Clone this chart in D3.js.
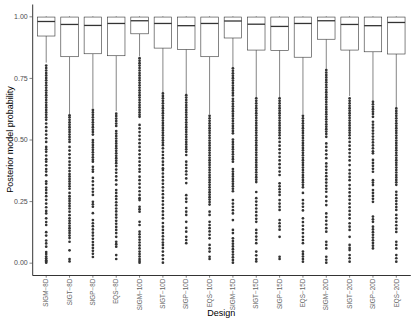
<!DOCTYPE html>
<html>
  <head>
    <script src="https://d3js.org/d3.v7.min.js"></script>
    <style>
      body { margin: 0; background: #fff; }
      text { font-family: "Liberation Sans", Arial, sans-serif; }
    </style>
  </head>
  <body>
    <div id="chart"></div>
  <script>
    var width = 415,
        height = 323;

    // designs on the x axis
    var designs = ["SIGM−8D", "SIGT−8D", "SIGP−8D", "EQS−8D",
                   "SIGM−10D", "SIGT−10D", "SIGP−10D", "EQS−10D",
                   "SIGM−15D", "SIGT−15D", "SIGP−15D", "EQS−15D",
                   "SIGM−20D", "SIGT−20D", "SIGP−20D", "EQS−20D"];

    // box summaries
    var q1s = [0.920, 0.836, 0.848, 0.840, 0.929, 0.871, 0.866, 0.836,
               0.912, 0.863, 0.862, 0.834, 0.907, 0.863, 0.856, 0.847];
    var medians = [0.979, 0.967, 0.963, 0.971, 0.982, 0.971, 0.962, 0.971,
                   0.981, 0.968, 0.959, 0.971, 0.982, 0.967, 0.962, 0.975];
    var q3s = [0.997, 0.997, 0.997, 0.997, 0.997, 0.997, 0.997, 0.997,
               0.997, 0.997, 0.997, 0.997, 0.997, 0.997, 0.997, 0.997];
    var lowerWhiskers = [0.812, 0.603, 0.628, 0.615, 0.838, 0.692, 0.682, 0.602,
                         0.792, 0.670, 0.670, 0.602, 0.785, 0.676, 0.656, 0.630];
    var upperWhiskers = [1, 1, 1, 1, 1, 1, 1, 1, 1, 1, 1, 1, 1, 1, 1, 1];

    var yTicks = [0, 0.25, 0.5, 0.75, 1];

    // outlying posterior probabilities, one list per design
    var outliers = [
      [0.80,0.79,0.78,0.77,0.76,0.75,0.74,0.73,0.72,0.71,0.70,0.69,0.68,0.67,0.66,0.65,0.64,0.63,0.62,0.61,
       0.60,0.59,0.58,0.565,0.55,0.535,0.52,0.505,0.49,0.47,0.46,0.45,0.435,0.42,0.41,0.395,0.38,0.37,0.355,
       0.33,0.32,0.305,0.295,0.283,0.27,0.255,0.24,0.225,0.21,0.20,0.18,0.165,0.153,0.124,0.11,0.09,0.078,0.065,
       0.043,0.035,0.025,0.018,0.01,0.005,0.0],
      [0.598,0.59,0.58,0.57,0.56,0.55,0.54,0.53,0.52,0.51,0.50,0.49,0.47,0.455,0.44,0.425,0.41,0.397,
       0.384,0.372,0.36,0.35,0.34,0.33,0.32,0.31,0.30,0.283,0.27,0.26,0.25,0.24,0.23,0.22,0.207,
       0.193,0.18,0.17,0.16,0.15,0.14,0.13,0.12,0.11,0.10,0.085,0.05,0.015,0.005],
      [0.62,0.61,0.60,0.59,0.58,0.57,0.56,0.55,0.54,0.53,0.52,0.498,0.488,0.478,0.468,0.458,0.448,0.438,0.428,0.418,0.41,
       0.389,0.378,0.369,0.344,0.33,0.315,0.30,0.288,0.275,0.247,0.237,0.227,0.201,
       0.173,0.16,0.148,0.135,0.122,0.11,0.097,0.084,0.072,0.06,0.048,0.036,0.023],
      [0.605,0.595,0.585,0.575,0.565,0.555,0.534,0.524,0.514,0.504,0.494,0.484,0.474,0.464,0.454,0.444,0.434,0.424,0.414,0.404,0.392,
       0.378,0.365,0.35,0.335,0.317,0.295,0.283,0.27,0.258,0.245,0.233,0.22,0.208,0.195,0.183,0.17,0.158,0.145,0.133,0.12,0.105,
       0.085,0.075,0.065,0.031,0.015],
      [0.83,0.82,0.81,0.80,0.79,0.78,0.77,0.76,0.75,0.74,0.73,0.72,0.71,0.70,0.69,0.68,0.67,0.66,0.65,0.64,0.63,0.62,0.61,0.60,0.592,
       0.559,0.545,0.53,0.515,0.50,0.485,0.47,0.455,0.44,0.425,0.41,0.395,0.38,0.369,
       0.349,0.335,0.32,0.305,0.29,0.275,0.262,0.254,0.227,0.217,0.207,0.166,0.153,
       0.126,0.115,0.104,0.093,0.082,0.07,0.058,0.045,0.035,0.025,0.015,0.007,0.0],
      [0.687,0.677,0.667,0.657,0.647,0.637,0.627,0.617,0.607,0.597,0.587,0.577,0.567,0.557,0.547,0.537,0.527,0.517,0.507,0.497,0.487,0.477,0.464,
       0.45,0.437,0.424,0.41,0.397,0.383,0.376,0.362,0.348,0.334,0.32,0.306,0.292,0.278,0.264,0.25,0.236,0.222,0.208,0.194,0.18,0.161,
       0.146,0.133,0.12,0.107,0.094,0.082,0.072,0.06,0.045,0.03,0.015,0.0],
      [0.68,0.67,0.66,0.65,0.64,0.63,0.62,0.61,0.60,0.59,0.58,0.57,0.56,0.55,0.54,0.53,0.52,0.51,0.50,0.49,0.48,0.47,0.46,0.45,0.437,
       0.41,0.397,0.384,0.371,0.358,0.342,0.323,0.274,0.26,0.247,0.222,0.207,0.194,0.166,0.141,0.126,0.105,0.092,0.079],
      [0.596,0.586,0.576,0.566,0.556,0.546,0.536,0.526,0.516,0.506,0.496,0.486,0.476,0.466,0.456,0.446,0.436,0.426,0.416,0.406,
       0.396,0.386,0.376,0.366,0.356,0.346,0.336,0.326,0.316,0.306,0.296,0.286,0.276,0.266,0.256,0.246,0.236,
       0.207,0.194,0.166,0.153,0.14,0.127,0.113,0.099,0.072,0.058,0.045,0.024,0.015],
      [0.789,0.779,0.769,0.759,0.749,0.739,0.729,0.719,0.709,0.699,0.689,0.679,0.665,0.655,0.645,0.635,0.625,0.615,0.605,0.595,
       0.585,0.575,0.565,0.555,0.545,0.535,0.525,0.50,0.49,0.48,0.47,0.46,0.45,0.44,0.43,0.42,0.41,
       0.38,0.37,0.36,0.35,0.34,0.33,0.32,0.31,0.30,0.29,0.254,0.24,0.227,0.213,0.20,0.173,0.133,0.12,
       0.099,0.088,0.077,0.066,0.055,0.044,0.033,0.022,0.011,0.0],
      [0.667,0.657,0.647,0.637,0.627,0.617,0.607,0.597,0.587,0.577,0.567,0.557,0.547,0.537,0.527,0.517,0.507,0.497,
       0.487,0.477,0.467,0.457,0.447,0.437,0.427,0.417,0.407,0.397,0.387,0.377,0.367,0.357,0.347,0.337,0.327,
       0.287,0.262,0.248,0.234,0.22,0.206,0.192,0.178,0.166,0.133,0.12,0.106,0.093,0.079,0.045,0.03,0.015,0.005],
      [0.667,0.657,0.647,0.637,0.627,0.617,0.607,0.597,0.587,0.577,0.567,0.557,0.547,0.537,0.527,0.517,0.505,0.49,
       0.475,0.46,0.445,0.43,0.415,0.40,0.385,0.37,0.356,0.322,0.31,0.298,0.287,0.275,
       0.254,0.24,0.227,0.214,0.173,0.16,0.147,0.134,0.105,0.024,0.015],
      [0.596,0.586,0.576,0.566,0.556,0.546,0.536,0.526,0.516,0.506,0.496,0.486,0.476,0.466,0.456,0.446,0.436,0.426,0.416,0.406,
       0.396,0.386,0.376,0.366,0.356,0.346,0.336,0.326,0.316,0.306,0.283,0.254,0.24,0.227,0.212,
       0.18,0.165,0.15,0.135,0.12,0.105,0.092,0.079,0.045,0.035,0.025,0.015,0.004],
      [0.782,0.772,0.762,0.752,0.742,0.732,0.722,0.712,0.702,0.692,0.682,0.672,0.662,0.652,0.642,0.632,0.622,0.612,0.602,0.592,
       0.582,0.572,0.562,0.552,0.542,0.532,0.522,0.511,0.484,0.47,0.455,0.44,0.424,
       0.403,0.39,0.377,0.364,0.351,0.338,0.325,0.312,0.30,0.288,0.268,0.25,0.234,
       0.20,0.185,0.17,0.155,0.14,0.126,0.085,0.072,0.058,0.024,0.012,0.0],
      [0.667,0.657,0.647,0.637,0.627,0.617,0.607,0.597,0.587,0.577,0.567,0.557,0.547,0.537,0.527,0.517,0.505,0.49,
       0.475,0.46,0.445,0.43,0.415,0.396,0.376,0.362,0.348,0.335,
       0.315,0.30,0.285,0.27,0.255,0.24,0.225,0.21,0.195,0.18,0.16,0.146,0.133,0.105,0.072,0.06,0.051,0.031,0.018,0.004],
      [0.653,0.643,0.633,0.623,0.613,0.603,0.592,0.572,0.56,0.548,0.536,0.524,0.512,0.50,0.488,0.476,0.464,0.452,0.444,
       0.417,0.405,0.393,0.381,0.369,0.335,0.325,0.315,0.295,0.283,0.271,0.259,0.247,
       0.187,0.176,0.166,0.146,0.135,0.124,0.113,0.102,0.091,0.08,0.069,0.058],
      [0.626,0.616,0.606,0.596,0.586,0.576,0.566,0.556,0.546,0.536,0.526,0.516,0.506,0.496,0.486,0.476,0.466,0.456,0.446,0.436,
       0.426,0.416,0.406,0.396,0.386,0.376,0.366,0.356,0.346,0.336,0.326,0.316,
       0.288,0.275,0.262,0.25,0.238,0.226,0.214,0.194,0.18,0.166,0.152,0.138,0.125,0.085,0.072,0.058,0.031,0.018,0.004]
    ];

    var margin = {top: 4, right: 4.7, bottom: 48, left: 32.2};

    var svg = d3.select("#chart").append("svg")
        .attr("width", width)
        .attr("height", height);

    var x = d3.scaleBand()
        .domain(designs)
        .range([margin.left, width - margin.right])
        .paddingInner(0)
        .paddingOuter(0.1);

    var y = d3.scaleLinear()
        .domain([-0.05, 1.05])
        .range([height - margin.bottom, margin.top]);

    var boxW = x.bandwidth() * 0.75;

    var stats = designs.map(function(d, i) {
      return {design: d, q1: q1s[i], med: medians[i], q3: q3s[i],
              lo: lowerWhiskers[i], hi: upperWhiskers[i], out: outliers[i]};
    });

    var boxes = svg.selectAll("g.box")
        .data(stats)
        .enter()
        .append("g")
        .attr("class", "box")
        .attr("transform", function(d) { return "translate(" + (x(d.design) + x.bandwidth() / 2) + ",0)"; });

    // whiskers
    boxes.append("line")
        .attr("y1", function(d) { return y(d.q1); })
        .attr("y2", function(d) { return y(d.lo); })
        .attr("stroke", "#333")
        .attr("stroke-width", 0.6);

    boxes.append("line")
        .attr("y1", function(d) { return y(d.q3); })
        .attr("y2", function(d) { return y(d.hi); })
        .attr("stroke", "#333")
        .attr("stroke-width", 0.6);

    // outliers
    boxes.selectAll("circle")
        .data(function(d) { return d.out; })
        .enter()
        .append("circle")
        .attr("cx", 0)
        .attr("cy", function(v) { return y(v); })
        .attr("r", 1.35)
        .attr("fill", "#333");

    // boxes
    boxes.append("rect")
        .attr("x", -boxW / 2)
        .attr("width", boxW)
        .attr("y", function(d) { return y(d.q3); })
        .attr("height", function(d) { return y(d.q1) - y(d.q3); })
        .attr("fill", "#fff")
        .attr("stroke", "#333")
        .attr("stroke-width", 0.6);

    boxes.append("line")
        .attr("x1", -boxW / 2)
        .attr("x2", boxW / 2)
        .attr("y1", function(d) { return y(d.med); })
        .attr("y2", function(d) { return y(d.med); })
        .attr("stroke", "#333")
        .attr("stroke-width", 1.3);

    // axes
    var yAxis = d3.axisLeft(y)
        .tickValues(yTicks)
        .tickFormat(d3.format(".2f"))
        .tickSize(2.7)
        .tickSizeOuter(0)
        .tickPadding(1.8);

    var gy = svg.append("g")
        .attr("transform", "translate(" + margin.left + ",0)")
        .call(yAxis);

    var xAxis = d3.axisBottom(x)
        .tickSize(2.7)
        .tickSizeOuter(0);

    var gx = svg.append("g")
        .attr("transform", "translate(0," + (height - margin.bottom) + ")")
        .call(xAxis);

    [gx, gy].forEach(function(g) {
      g.select(".domain").attr("stroke", "#000").attr("stroke-width", 0.8);
      g.selectAll(".tick line").attr("stroke", "#333").attr("stroke-width", 0.6);
      g.selectAll(".tick text")
          .attr("fill", "#4d4d4d")
          .style("font-size", "7px")
          .style("font-family", "'Liberation Sans', Arial, sans-serif");
    });

    gx.selectAll(".tick text")
        .attr("transform", "rotate(-90)")
        .attr("x", -3.8)
        .attr("y", 0)
        .attr("dy", "0.35em")
        .attr("fill", "#666")
        .style("font-size", "6.3px")
        .style("text-anchor", "end");

    // axis titles
    svg.append("text")
        .attr("x", (margin.left + width - margin.right) / 2)
        .attr("y", 315.5)
        .attr("text-anchor", "middle")
        .style("font-size", "9px")
        .text("Design");

    svg.append("text")
        .attr("transform", "translate(12.8," + ((margin.top + height - margin.bottom) / 2) + ") rotate(-90)")
        .attr("text-anchor", "middle")
        .style("font-size", "9px")
        .text("Posterior model probability");
  </script>
  </body>
</html>
